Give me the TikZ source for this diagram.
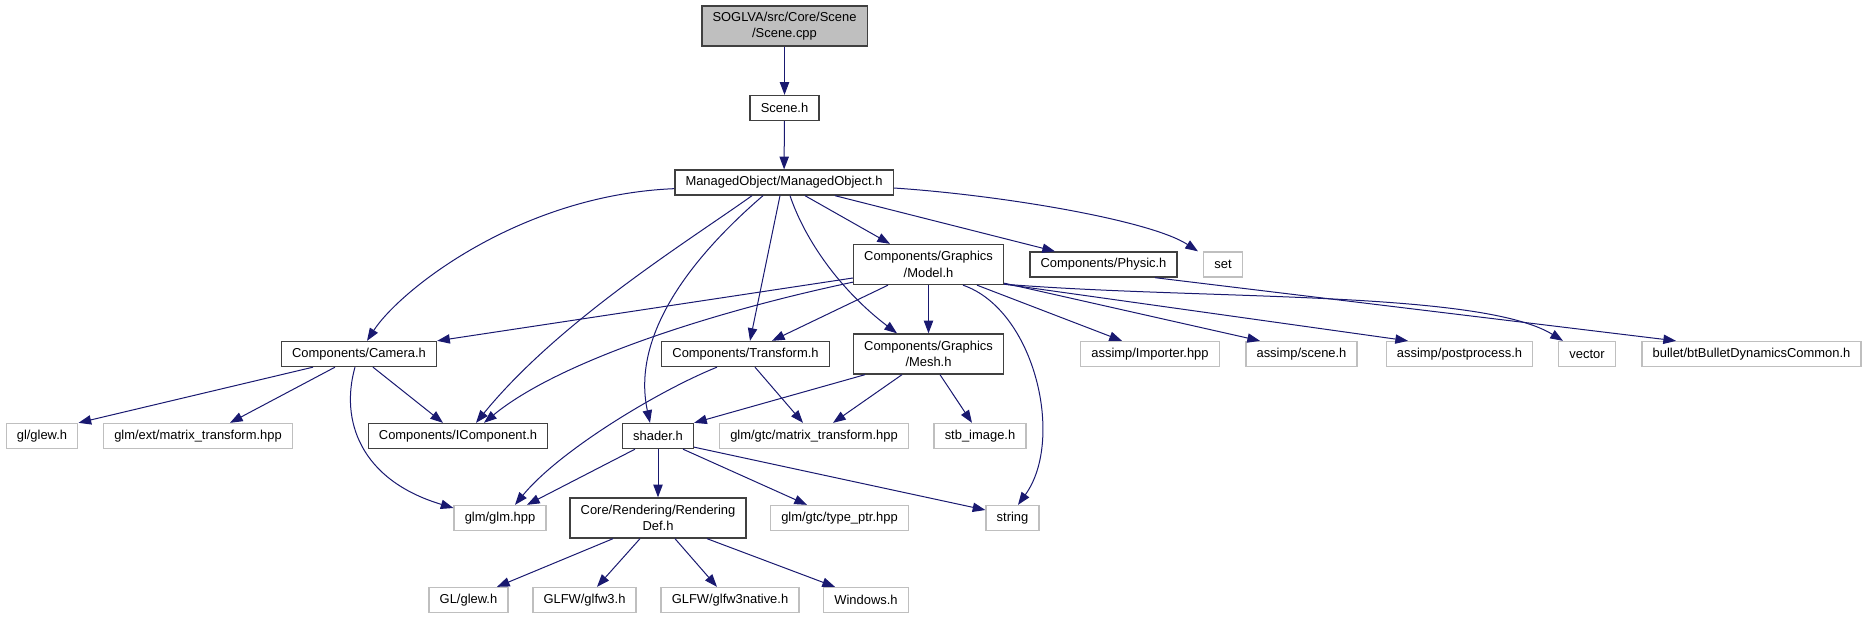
\documentclass[tikz,border=0pt]{standalone}
\usepackage{fontspec}
\setmainfont{Liberation Sans}
\usepackage{xcolor}
\usepackage{tikz}
\usetikzlibrary{calc, arrows.meta}

\definecolor{edgeblue}{HTML}{191970}
\definecolor{sysgray}{HTML}{BFBFBF}
\definecolor{boxgray}{HTML}{404040}

\begin{document}
\begin{tikzpicture}[x=0.75pt, y=-0.75pt, >={Triangle[length=9.5pt, width=7pt]},
    hdr/.style={draw=boxgray, line width=1pt, inner xsep=8pt, inner ysep=2pt,
        minimum height=18.75pt, align=center, font=\fontsize{9.7}{12.5}\selectfont},
    syshdr/.style={hdr, draw=sysgray},
    roothdr/.style={hdr, fill=sysgray},
    twoline/.style={minimum height=30pt},
    dep/.style={->, draw=edgeblue, line width=0.75pt}]

    \useasboundingbox (0,0) rectangle (1868,619);

    % =================================================================
    % 1. CAC NUT (TAP TIN)
    % =================================================================
    \node[roothdr, twoline] (scenecpp) at (784.5,26) {SOGLVA/src/Core/Scene\\/Scene.cpp};
    \node[hdr] (sceneh) at (784.5,108) {Scene.h};
    \node[hdr] (mo) at (784,182.5) {ManagedObject/ManagedObject.h};

    \node[hdr, twoline] (model) at (928.5,264.5) {Components/Graphics\\/Model.h};
    \node[hdr] (physic) at (1103.5,264.5) {Components/Physic.h};
    \node[syshdr] (nset) at (1223,264.5) {set};

    \node[hdr] (camera) at (359,354) {Components/Camera.h};
    \node[hdr] (transform) at (745.5,354) {Components/Transform.h};
    \node[hdr, twoline] (mesh) at (928.5,354) {Components/Graphics\\/Mesh.h};
    \node[syshdr] (importer) at (1150,354) {assimp/Importer.hpp};
    \node[syshdr] (ascene) at (1301.5,354) {assimp/scene.h};
    \node[syshdr] (postproc) at (1459.5,354) {assimp/postprocess.h};
    \node[syshdr] (vector) at (1587,354) {vector};
    \node[syshdr] (bullet) at (1751.5,354) {bullet/btBulletDynamicsCommon.h};

    \node[syshdr] (glew) at (42,436) {gl/glew.h};
    \node[syshdr] (extmat) at (198,436) {glm/ext/matrix\_transform.hpp};
    \node[hdr] (icomp) at (458,436) {Components/IComponent.h};
    \node[hdr] (shader) at (658,436) {shader.h};
    \node[syshdr] (gtcmat) at (814,436) {glm/gtc/matrix\_transform.hpp};
    \node[syshdr] (stb) at (980,436) {stb\_image.h};

    \node[syshdr] (glm) at (500,518) {glm/glm.hpp};
    \node[hdr, twoline] (rdef) at (658,518) {Core/Rendering/Rendering\\Def.h};
    \node[syshdr] (typeptr) at (839.5,518) {glm/gtc/type\_ptr.hpp};
    \node[syshdr] (string) at (1012.5,518) {string};

    \node[syshdr] (GLglew) at (468.5,600) {GL/glew.h};
    \node[syshdr] (glfw) at (584.5,600) {GLFW/glfw3.h};
    \node[syshdr] (glfwnat) at (730,600) {GLFW/glfw3native.h};
    \node[syshdr] (windows) at (866,600) {Windows.h};

    % =================================================================
    % 2. SCENE.CPP, SCENE.H, MANAGEDOBJECT.H
    % =================================================================
    \draw[dep] (scenecpp) -- (sceneh);
    \draw[dep] (sceneh) -- (mo);

    \draw[dep] ($(mo.south west)+(0,-7)$) .. controls (520,195) and (400,290) .. ($(camera.north)+(8,0)$);
    \draw[dep] ($(mo.south)+(-32,0)$) .. controls (690,240) and (560,320) .. ($(icomp.north)+(18,0)$);
    \draw[dep] ($(mo.south)+(-21,0)$) .. controls (700,250) and (630,330) .. ($(shader.north)+(-8,0)$);
    \draw[dep] ($(mo.south)+(-4,0)$) -- ($(transform.north)+(4.5,0)$);
    \draw[dep] ($(mo.south)+(6,0)$) .. controls (805,240) and (840,290) .. ($(mesh.north)+(-31.5,0)$);
    \draw[dep] ($(mo.south)+(21,0)$) -- ($(model.north)+(-38.5,0)$);
    \draw[dep] ($(mo.south)+(51,0)$) -- ($(physic.north)+(-48.5,0)$);
    \draw[dep] ($(mo.east)+(0,5.5)$) .. controls (1000,195) and (1150,220) .. ($(nset.north)+(-25,0)$);

    % =================================================================
    % 3. MODEL.H VA PHYSIC.H
    % =================================================================
    \draw[dep] ($(model.west)+(0,13.5)$) -- (camera.north east);
    \draw[dep] ($(model.south west)+(0,-3)$) .. controls (720,310) and (560,360) .. ($(icomp.north)+(26,0)$);
    \draw[dep] ($(model.south)+(-40.5,0)$) -- ($(transform.north)+(26.5,0)$);
    \draw[dep] (model) -- (mesh);
    \draw[dep] ($(model.south)+(34.5,0)$) .. controls (1035,310) and (1065,440) .. ($(string.north)+(5.5,0)$);
    \draw[dep] ($(model.south)+(48.5,0)$) -- ($(importer.north)+(-28,0)$);
    \draw[dep] ($(model.south east)+(0,-2)$) -- ($(ascene.north)+(-41.5,0)$);
    \draw[dep] ($(model.south east)+(0,-1)$) -- ($(postproc.north)+(-51.5,0)$);
    \draw[dep] ($(model.south east)+(0,-1)$) .. controls (1200,300) and (1480,290) .. ($(vector.north)+(-24,0)$);
    \draw[dep] ($(physic.south)+(51.5,0)$) -- ($(bullet.north)+(-75.5,0)$);

    % =================================================================
    % 4. CAMERA.H, TRANSFORM.H, MESH.H
    % =================================================================
    \draw[dep] ($(camera.south)+(-46,0)$) -- (glew.north east);
    \draw[dep] ($(camera.south)+(-24,0)$) -- ($(extmat.north)+(32,0)$);
    \draw[dep] ($(camera.south)+(14,0)$) -- ($(icomp.north)+(-15,0)$);
    \draw[dep] ($(camera.south)+(-4,0)$) .. controls (340,420) and (360,480) .. ($(glm.west)+(0,-10)$);

    \draw[dep] ($(transform.south)+(-28.5,0)$) .. controls (660,390) and (560,450) .. ($(glm.north)+(15,0)$);
    \draw[dep] ($(transform.south)+(9.5,0)$) -- ($(gtcmat.north)+(-11,0)$);

    \draw[dep] ($(mesh.south)+(-63.5,0)$) -- (shader.north east);
    \draw[dep] ($(mesh.south)+(-26.5,0)$) -- ($(gtcmat.north)+(19,0)$);
    \draw[dep] ($(mesh.south)+(11.5,0)$) -- ($(stb.north)+(-8,0)$);

    % =================================================================
    % 5. SHADER.H VA RENDERINGDEF.H
    % =================================================================
    \draw[dep] ($(shader.south)+(-23,0)$) -- ($(glm.north)+(27,0)$);
    \draw[dep] (shader) -- (rdef);
    \draw[dep] ($(shader.south)+(25,0)$) -- ($(typeptr.north)+(-32.5,0)$);
    \draw[dep] ($(shader.south east)+(0,-2)$) -- ($(string.west)+(0,-8)$);

    \draw[dep] ($(rdef.south)+(-45,0)$) -- ($(GLglew.north)+(28.5,0)$);
    \draw[dep] ($(rdef.south)+(-18,0)$) -- ($(glfw.north)+(12.5,0)$);
    \draw[dep] ($(rdef.south)+(17,0)$) -- ($(glfwnat.north)+(-13,0)$);
    \draw[dep] ($(rdef.south)+(49,0)$) -- ($(windows.north)+(-31,0)$);

\end{tikzpicture}
\end{document}
